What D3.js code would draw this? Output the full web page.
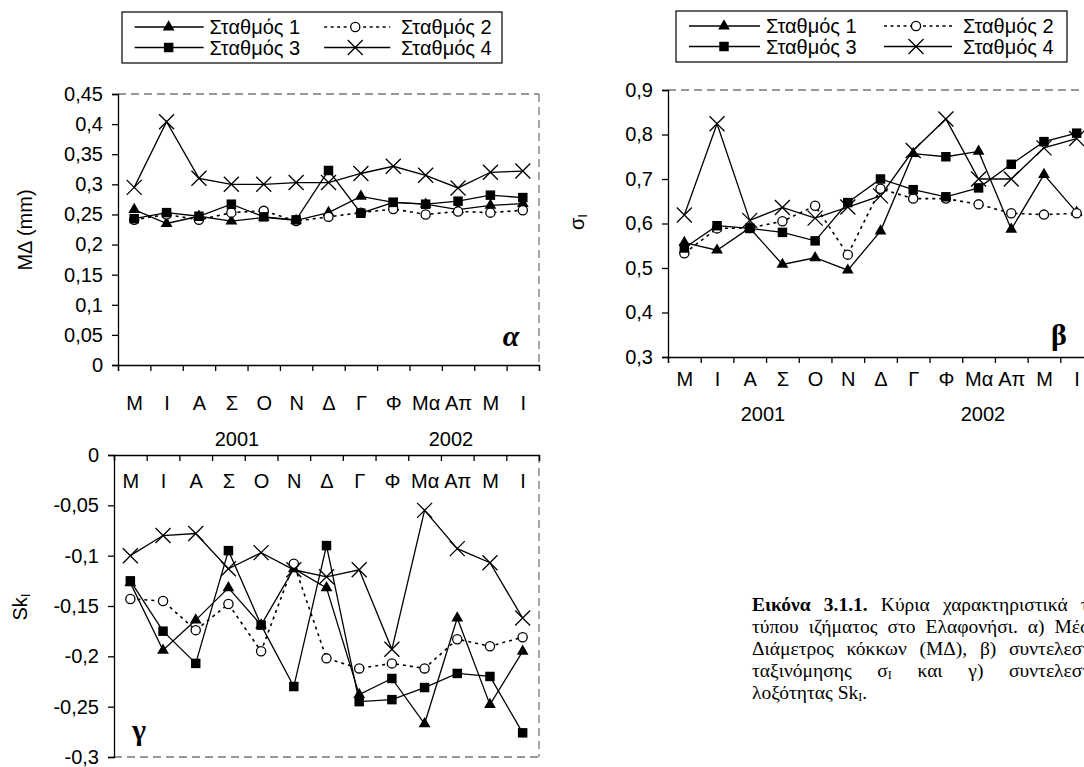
<!DOCTYPE html>
<html>
<head>
<meta charset="utf-8">
<script src="https://cdn.jsdelivr.net/npm/d3@7"></script>
<style>
  body { margin: 0; background: #fff; }
  text { font-family: "Liberation Sans", Arial, sans-serif; fill: #000; }
</style>
</head>
<body>
<svg id="fig" width="1084" height="767"></svg>
<script>
// categories (months May 2001 - June 2002)
const months = ["Μ", "Ι", "Α", "Σ", "Ο", "Ν", "Δ", "Γ", "Φ", "Μα", "Απ", "Μ", "Ι"];
const stations = ["Σταθμός 1", "Σταθμός 2", "Σταθμός 3", "Σταθμός 4"];
const years = ["2001", "2002"];

// α) mean diameter MΔ (mm)
const md1 = [0.258, 0.235, 0.247, 0.239, 0.245, 0.240, 0.253, 0.280, 0.270, 0.267, 0.258, 0.265, 0.268];
const md2 = [0.241, 0.250, 0.241, 0.253, 0.256, 0.239, 0.246, 0.253, 0.259, 0.250, 0.255, 0.253, 0.257];
const md3 = [0.243, 0.253, 0.247, 0.267, 0.246, 0.241, 0.323, 0.252, 0.270, 0.267, 0.272, 0.282, 0.278];
const md4 = [0.295, 0.404, 0.310, 0.300, 0.300, 0.303, 0.303, 0.318, 0.330, 0.315, 0.294, 0.320, 0.322];

// β) sorting σI
const sg1 = [0.557, 0.540, 0.590, 0.508, 0.523, 0.495, 0.583, 0.757, 0.750, 0.762, 0.587, 0.710, 0.625];
const sg2 = [0.533, 0.589, 0.590, 0.605, 0.640, 0.530, 0.678, 0.656, 0.656, 0.643, 0.623, 0.620, 0.623];
const sg3 = [0.545, 0.595, 0.589, 0.580, 0.561, 0.647, 0.700, 0.676, 0.660, 0.680, 0.733, 0.784, 0.803];
const sg4 = [0.619, 0.824, 0.607, 0.636, 0.612, 0.637, 0.662, 0.764, 0.835, 0.700, 0.700, 0.770, 0.791];

// γ) skewness SkI
const sk1 = [-0.127, -0.194, -0.164, -0.132, -0.169, -0.113, -0.132, -0.238, -0.222, -0.267, -0.162, -0.248, -0.195];
const sk2 = [-0.143, -0.145, -0.174, -0.148, -0.195, -0.108, -0.202, -0.212, -0.207, -0.212, -0.183, -0.190, -0.181];
const sk3 = [-0.125, -0.175, -0.207, -0.095, -0.169, -0.230, -0.090, -0.245, -0.243, -0.231, -0.217, -0.220, -0.276];
const sk4 = [-0.100, -0.080, -0.078, -0.113, -0.097, -0.114, -0.121, -0.114, -0.193, -0.055, -0.093, -0.107, -0.162];

const ticksMD = [0, 0.05, 0.1, 0.15, 0.2, 0.25, 0.3, 0.35, 0.4, 0.45];
const ticksSG = [0.3, 0.4, 0.5, 0.6, 0.7, 0.8, 0.9];
const ticksSK = [0, -0.05, -0.1, -0.15, -0.2, -0.25, -0.3];

// marker kind per station; point 8 (Φ) of station 1 is shown with a square in the original
const markerOf = (s, i) => (s === 0 ? (i === 8 ? "square" : "triangle") : ["triangle", "circle", "square", "x"][s]);

const svg = d3.select("#fig");
const fmt = v => String(Math.round(v * 100) / 100).replace(".", ",");
const FS = 20;

function drawMarker(g, kind, x, y) {
  if (kind === "triangle") {
    g.append("path").attr("d", d3.symbol(d3.symbolTriangle, 60)())
      .attr("transform", `translate(${x},${y})`).attr("fill", "#000");
  } else if (kind === "square") {
    g.append("path").attr("d", d3.symbol(d3.symbolSquare, 90)())
      .attr("transform", `translate(${x},${y})`).attr("fill", "#000");
  } else if (kind === "circle") {
    g.append("circle").attr("cx", x).attr("cy", y).attr("r", 4.6)
      .attr("fill", "#fff").attr("stroke", "#000").attr("stroke-width", 1.3);
  } else {
    const r = 7.5;
    g.append("path").attr("d", `M${x - r},${y - r}L${x + r},${y + r}M${x - r},${y + r}L${x + r},${y - r}`)
      .attr("stroke", "#000").attr("stroke-width", 1.3);
  }
}

function legend(x, y, w) {
  const k = w / 391;
  const g = svg.append("g").attr("transform", `translate(${x},${y})`);
  g.append("rect").attr("x", 0).attr("y", 0).attr("width", w).attr("height", 51)
    .attr("fill", "#fff").attr("stroke", "#000").attr("stroke-width", 1.2);
  const cols = [{ l0: 13, l1: 84, m: 48, t: 90 }, { l0: 208, l1: 276, m: 240, t: 287 }];
  const pos = [[0, 0], [1, 0], [0, 1], [1, 1]];
  stations.forEach((name, s) => {
    const c = cols[pos[s][0]];
    const yy = 15 + pos[s][1] * 20.5;
    g.append("line").attr("x1", c.l0 * k).attr("x2", c.l1 * k).attr("y1", yy).attr("y2", yy)
      .attr("stroke", "#000").attr("stroke-width", s === 1 ? 1.6 : 1.3)
      .attr("stroke-dasharray", s === 1 ? "3,3.5" : null);
    drawMarker(g, markerOf(s, 0), c.m * k, yy);
    g.append("text").attr("x", c.t * k).attr("y", yy + 7).attr("font-size", FS).text(name);
  });
}

function panel(cfg) {
  const g = svg.append("g");
  const x = d3.scaleLinear().domain([0, months.length]).range([cfg.x0, cfg.x1]);
  const y = d3.scaleLinear().domain(cfg.domain).range([cfg.yBottom, cfg.yTop]);

  // dashed plot-area border (sides without an axis)
  const dash = (x1, y1, x2, y2) => g.append("line").attr("x1", x1).attr("y1", y1).attr("x2", x2).attr("y2", y2)
    .attr("stroke", "#777").attr("stroke-width", 1.3).attr("stroke-dasharray", "8,5");
  dash(cfg.x0, cfg.yFree, cfg.x1, cfg.yFree);
  dash(cfg.x1, cfg.yTop, cfg.x1, cfg.yBottom);

  // value axis
  const ya = g.append("g").attr("transform", `translate(${cfg.x0},0)`)
    .call(d3.axisLeft(y).tickValues(cfg.ticks).tickFormat(fmt).tickSize(6).tickPadding(9));
  // category axis: ticks between months, labels centred
  const yAx = y(cfg.axisAt);
  const xa = g.append("g").attr("transform", `translate(0,${yAx})`)
    .call(d3.axisBottom(x).tickValues(d3.range(months.length + 1)).tickFormat("").tickSize(6));
  const xl = g.append("g").attr("transform", `translate(0,${yAx})`)
    .call(d3.axisBottom(x).tickValues(d3.range(months.length).map(i => i + 0.5))
      .tickFormat((d, i) => months[i]).tickSize(0).tickPadding(cfg.labelPad));
  xl.select(".domain").remove();
  [ya, xa, xl].forEach(a => {
    a.attr("font-family", null).attr("font-size", FS);
    a.selectAll(".domain, line").attr("stroke", "#000").attr("stroke-width", 1.3);
  });

  // series lines then markers
  const line = d3.line().x((d, i) => x(i + 0.5)).y(d => y(d));
  cfg.series.forEach((data, s) => {
    g.append("path").datum(data).attr("d", line).attr("fill", "none")
      .attr("stroke", "#000").attr("stroke-width", s === 1 ? 1.6 : 1.3)
      .attr("stroke-dasharray", s === 1 ? "3,4" : null);
  });
  cfg.series.forEach((data, s) => {
    data.forEach((v, i) => drawMarker(g, markerOf(s, i), x(i + 0.5), y(v)));
  });

  // axis title
  const t = g.append("text").attr("transform", `translate(${cfg.titleX},${cfg.titleY}) rotate(-90)`)
    .attr("text-anchor", "middle").attr("font-size", FS);
  cfg.title.forEach(([txt, sub]) => {
    t.append("tspan").text(txt).attr("font-size", sub ? 13 : FS).attr("baseline-shift", sub ? "-25%" : null);
  });

  // panel letter
  g.append("text").attr("x", cfg.letterX).attr("y", cfg.letterY)
    .attr("font-weight", "bold").attr("font-style", cfg.italic ? "italic" : null)
    .attr("font-size", 30).attr("text-anchor", "middle").style("font-family", "'Liberation Serif', serif")
    .text(cfg.letter);

  // year labels
  if (cfg.yearY) {
    years.forEach((yr, k) => {
      g.append("text").attr("x", cfg.yearX[k]).attr("y", cfg.yearY)
        .attr("text-anchor", "middle").attr("font-size", FS).text(yr);
    });
  }
}

// α
legend(122, 12, 380);
panel({
  x0: 118, x1: 539, yTop: 94, yBottom: 365, yFree: 94, domain: [0, 0.45], axisAt: 0,
  ticks: ticksMD, labelPad: 31, series: [md1, md2, md3, md4],
  title: [["ΜΔ (mm)", false]], titleX: 32, titleY: 230,
  letter: "α", letterX: 511, letterY: 346, italic: true,
  yearX: [237, 451], yearY: 446
});

// β
legend(676, 11, 391);
panel({
  x0: 668, x1: 1093, yTop: 90, yBottom: 357, yFree: 90, domain: [0.3, 0.9], axisAt: 0.3,
  ticks: ticksSG, labelPad: 15, series: [sg1, sg2, sg3, sg4],
  title: [["σ", false], ["I", true]], titleX: 584, titleY: 222,
  letter: "β", letterX: 1059, letterY: 345, italic: false,
  yearX: [763, 983], yearY: 421
});

// γ
panel({
  x0: 114, x1: 539, yTop: 455, yBottom: 757, yFree: 757, domain: [-0.3, 0], axisAt: 0,
  ticks: ticksSK, labelPad: 19, series: [sk1, sk2, sk3, sk4],
  title: [["Sk", false], ["I", true]], titleX: 27, titleY: 607,
  letter: "γ", letterX: 139, letterY: 740, italic: false,
  yearY: null
});

// caption, justified lines
const caption = [
  [["Εικόνα", "b"], ["3.1.1.", "b"], ["Κύρια"], ["χαρακτηριστικά"], ["του"]],
  [["τύπου"], ["ιζήματος"], ["στο"], ["Ελαφονήσι."], ["α)"], ["Μέσος"]],
  [["Διάμετρος"], ["κόκκων"], ["(ΜΔ),"], ["β)"], ["συντελεστής"]],
  [["ταξινόμησης"], ["σ", null, "I"], ["και"], ["γ)"], ["συντελεστής"]],
  [["λοξότητας"], ["Sk", null, "I."]]
];
const capX = 752, capW = 356, capY0 = 611, capDy = 22;
const cap = svg.append("g");
caption.forEach((words, li) => {
  const items = words.map(([w, b, sub]) => {
    const t = cap.append("text").attr("y", capY0 + li * capDy).attr("font-size", 19.5)
      .style("font-family", "'Liberation Serif', serif")
      .attr("font-weight", b ? "bold" : null);
    t.append("tspan").text(w);
    if (sub) {
      const parts = sub.match(/^(I)(.*)$/);
      t.append("tspan").text(parts[1]).attr("font-size", 12).attr("baseline-shift", "-20%");
      if (parts[2]) t.append("tspan").text(parts[2]);
    }
    return t;
  });
  const widths = items.map(t => t.node().getComputedTextLength());
  const total = d3.sum(widths);
  const last = li === caption.length - 1;
  const gap = last ? 5 : (capW - total) / (items.length - 1);
  let cx = capX;
  items.forEach((t, k) => { t.attr("x", cx); cx += widths[k] + gap; });
});
</script>
</body>
</html>
